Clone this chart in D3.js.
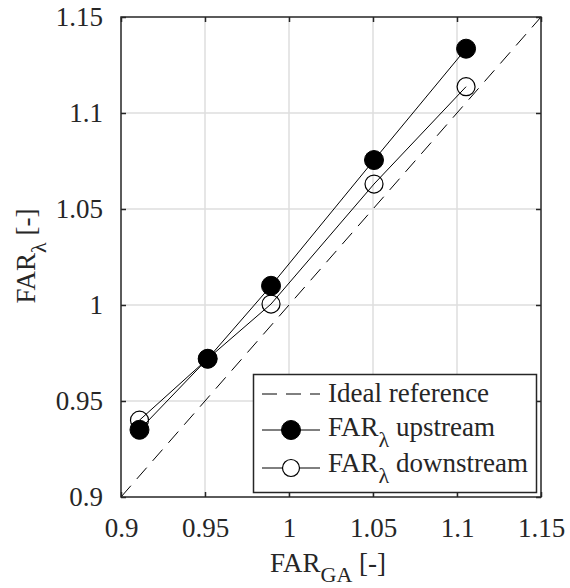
<!DOCTYPE html>
<html>
<head>
<meta charset="utf-8">
<script src="https://cdn.jsdelivr.net/npm/d3@7"></script>
<style>
  html, body { margin: 0; padding: 0; background: #fff; }
  svg { display: block; }
</style>
</head>
<body>
<svg id="chart" width="570" height="588"></svg>
<script>
// Measured FAR values: gas-analyser reference vs. lambda-sensor estimates
const farGA = [0.911, 0.9516, 0.9893, 1.0506, 1.1054];
const farUpstream = [0.935, 0.972, 1.010, 1.0755, 1.1335];
const farDownstream = [0.940, 0.972, 1.0005, 1.063, 1.1137];
const idealLine = [0.9, 1.15];
const xTicks = [0.9, 0.95, 1, 1.05, 1.1, 1.15];
const yTicks = [0.9, 0.95, 1, 1.05, 1.1, 1.15];
const tickLabels = ["0.9", "0.95", "1", "1.05", "1.1", "1.15"];
const legendLabels = ["Ideal reference", "upstream", "downstream"];

(function draw() {
  const FONT = "'Liberation Serif', 'Times New Roman', 'DejaVu Serif', serif";
  const INK = "#262626";
  const FS = 27, SUB = 22;
  const svg = d3.select("#chart");
  const pLeft = 121, pRight = 541, pTop = 17, pBottom = 497;
  const x = d3.scaleLinear().domain([0.9, 1.15]).range([pLeft, pRight]);
  const y = d3.scaleLinear().domain([0.9, 1.15]).range([pBottom, pTop]);
  const fmt = d => tickLabels[xTicks.indexOf(d)];
  const txt = (sel, size) => sel.style("font-family", FONT).style("font-size", size + "px").attr("fill", INK);

  // grid
  const grid = svg.append("g").attr("stroke", "#dedede").attr("stroke-width", 1.5);
  grid.selectAll(".gx").data(xTicks.slice(1, -1)).join("line")
    .attr("x1", d => x(d)).attr("x2", d => x(d)).attr("y1", pTop).attr("y2", pBottom);
  grid.selectAll(".gy").data(yTicks.slice(1, -1)).join("line")
    .attr("y1", d => y(d)).attr("y2", d => y(d)).attr("x1", pLeft).attr("x2", pRight);

  // axes with inward ticks
  function styleAxis(g) {
    g.attr("font-family", null);
    g.select(".domain").remove();
    g.selectAll(".tick line").attr("stroke", INK).attr("stroke-width", 1.5);
    txt(g.selectAll(".tick text"), FS);
  }
  svg.append("g").attr("transform", `translate(0,${pBottom})`)
    .call(d3.axisBottom(x).tickValues(xTicks).tickFormat(fmt).tickSizeInner(-5).tickSizeOuter(0).tickPadding(21))
    .call(styleAxis);
  svg.append("g").attr("transform", `translate(0,${pTop})`)
    .call(d3.axisTop(x).tickValues(xTicks).tickFormat("").tickSizeInner(-5).tickSizeOuter(0))
    .call(styleAxis);
  svg.append("g").attr("transform", `translate(${pLeft},0)`)
    .call(d3.axisLeft(y).tickValues(yTicks).tickFormat(fmt).tickSizeInner(-5).tickSizeOuter(0).tickPadding(18))
    .call(styleAxis);
  svg.append("g").attr("transform", `translate(${pRight},0)`)
    .call(d3.axisRight(y).tickValues(yTicks).tickFormat("").tickSizeInner(-5).tickSizeOuter(0))
    .call(styleAxis);

  // ideal reference line
  svg.append("line")
    .attr("x1", x(idealLine[0])).attr("y1", y(idealLine[0]))
    .attr("x2", x(idealLine[1])).attr("y2", y(idealLine[1]))
    .attr("stroke", "#000").attr("stroke-width", 1).attr("stroke-dasharray", "15,9");

  const line = d3.line();
  const upPts = farGA.map((v, i) => [x(v), y(farUpstream[i])]);
  const downPts = farGA.map((v, i) => [x(v), y(farDownstream[i])]);

  svg.append("path").attr("d", line(downPts)).attr("fill", "none").attr("stroke", "#000").attr("stroke-width", 1);
  svg.append("path").attr("d", line(upPts)).attr("fill", "none").attr("stroke", "#000").attr("stroke-width", 1);

  svg.selectAll(".down").data(downPts).join("circle")
    .attr("cx", d => d[0]).attr("cy", d => d[1]).attr("r", 9)
    .attr("fill", "none").attr("stroke", "#000").attr("stroke-width", 1.2);
  svg.selectAll(".up").data(upPts).join("circle")
    .attr("cx", d => d[0]).attr("cy", d => d[1]).attr("r", 9.5)
    .attr("fill", "#000").attr("stroke", "#000").attr("stroke-width", 1);

  // box
  svg.append("rect").attr("x", pLeft).attr("y", pTop).attr("width", pRight - pLeft).attr("height", pBottom - pTop)
    .attr("fill", "none").attr("stroke", INK).attr("stroke-width", 1.5);

  // axis titles
  const xt = svg.append("text").attr("x", 328).attr("y", 572).attr("text-anchor", "middle").call(txt, FS);
  xt.append("tspan").text("FAR");
  xt.append("tspan").attr("dy", 10).style("font-size", SUB + "px").text("GA");
  xt.append("tspan").attr("dy", -10).text(" [-]");

  const yt = svg.append("text").attr("transform", "rotate(-90)").attr("x", -256).attr("y", 35)
    .attr("text-anchor", "middle").call(txt, FS);
  yt.append("tspan").text("FAR");
  yt.append("tspan").attr("dy", 11).style("font-size", SUB + "px").text("λ");
  yt.append("tspan").attr("dy", -11).text(" [-]");

  // legend
  const lg = svg.append("g");
  lg.append("rect").attr("x", 253.5).attr("y", 374.5).attr("width", 283).attr("height", 118)
    .attr("fill", "#fff").attr("stroke", INK).attr("stroke-width", 1.5);
  const markY = [394, 430, 468];
  const baseY = [402, 436, 472];
  const lx1 = 262, lx2 = 320, mx = 291, tx = 328;
  lg.append("line").attr("x1", lx1).attr("x2", lx2).attr("y1", markY[0]).attr("y2", markY[0])
    .attr("stroke", "#000").attr("stroke-width", 1).attr("stroke-dasharray", "15,9");
  lg.append("text").attr("x", tx).attr("y", baseY[0]).call(txt, FS).text(legendLabels[0]);
  [1, 2].forEach(i => {
    const cy = markY[i];
    lg.append("line").attr("x1", lx1).attr("x2", lx2).attr("y1", cy).attr("y2", cy)
      .attr("stroke", "#000").attr("stroke-width", 1);
    lg.append("circle").attr("cx", mx).attr("cy", cy).attr("r", i === 1 ? 9.5 : 8.5)
      .attr("fill", i === 1 ? "#000" : "#fff").attr("stroke", "#000").attr("stroke-width", i === 1 ? 1 : 1.2);
    const t = lg.append("text").attr("x", tx).attr("y", baseY[i]).call(txt, FS);
    t.append("tspan").text("FAR");
    t.append("tspan").attr("dy", 11).style("font-size", SUB + "px").text("λ");
    t.append("tspan").attr("dy", -11).text(" " + legendLabels[i]);
  });
})();
</script>
</body>
</html>
